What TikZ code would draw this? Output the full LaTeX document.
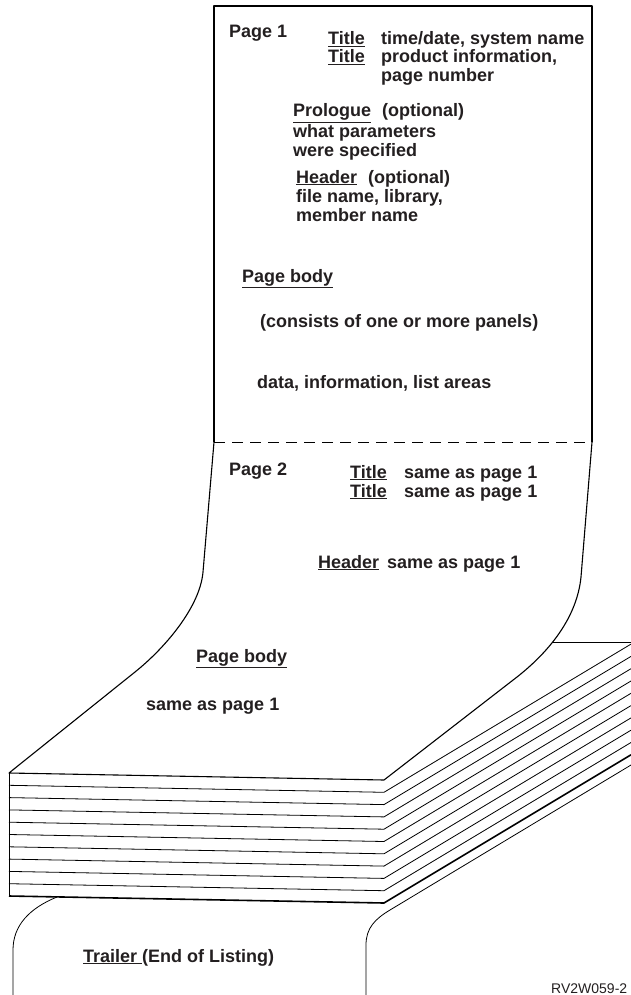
\documentclass[tikz,border=0pt]{standalone}
\usepackage{fontspec}
\setmainfont{Liberation Sans}
\usepackage{xcolor}
\usepackage{tikz}
\definecolor{ink}{HTML}{231F20}

\begin{document}
\begin{tikzpicture}[x=1pt, y=-1pt,
  edge/.style={line width=1.1pt, line join=round},
  sheet/.style={line width=0.8pt},
  bottom/.style={line width=1.6pt},
  fold/.style={line width=0.9pt, dash pattern=on 11pt off 7pt},
  txt/.style={anchor=base west, inner sep=0pt, text=ink,
              font=\bfseries\fontsize{18}{18.5}\selectfont},
  tag/.style={anchor=base west, inner sep=0pt, text=ink,
              font=\fontsize{14}{16}\selectfont}
]
\useasboundingbox (0,0) rectangle (631,995);
% page 1
\draw[edge] (214,442) -- (214,6) -- (592,6) -- (592,442);
\draw[fold] (214,442) -- (592,442);
% page 2 bending down onto the stack
\draw[edge] (214,442) -- (203,572) .. controls (200,607) and (165,648) .. (135,672)
  -- (9,773) -- (384,780) -- (517,677) .. controls (550,651) and (577,617) .. (581,577) -- (592,442);
% stack of pages
\draw[sheet] (9,773) -- (9,896);
\draw[sheet] (553,642) -- (631,642);
\draw[sheet] (9,785.3) -- (384,792.3) -- (631,644.1);
\draw[sheet] (9,797.6) -- (384,804.6) -- (631,656.4);
\draw[sheet] (9,809.9) -- (384,816.9) -- (631,668.7);
\draw[sheet] (9,822.2) -- (384,829.2) -- (631,681.0);
\draw[sheet] (9,834.5) -- (384,841.5) -- (631,693.3);
\draw[sheet] (9,846.8) -- (384,853.8) -- (631,705.6);
\draw[sheet] (9,859.1) -- (384,866.1) -- (631,717.9);
\draw[sheet] (9,871.4) -- (384,878.4) -- (631,730.2);
\draw[sheet] (9,883.7) -- (384,890.7) -- (631,742.5);
\draw[bottom] (9,896) -- (384,903) -- (631,754.8);
% trailer page
\draw[sheet] (57,897) .. controls (30,908) and (13,925) .. (13,950) -- (13,995);
\draw[sheet] (366,995) -- (366,945) .. controls (366,928) and (375,919) .. (390,910) -- (631,765);

% page 1 text
\node[txt] (pg1)   at (229,38)  {Page 1};
\node[txt] (ttl1)  at (328,45)  {\underline{Title}};
\node[txt] (ttl1d) at (381,45)  {time/date, system name};
\node[txt] (ttl2)  at (328,63)  {\underline{Title}};
\node[txt] (ttl2d) at (381,63)  {product information,};
\node[txt] (ttl2e) at (381,81.5){page number};
\node[txt] (prol)  at (293,117) {\underline{Prologue}\hspace{11pt}(optional)};
\node[txt] (prol2) at (293,137.5){what parameters};
\node[txt] (prol3) at (293,157) {were specified};
\node[txt] (hdr1)  at (296,183) {\underline{Header}\hspace{11pt}(optional)};
\node[txt] (hdr1b) at (296,202) {file name, library,};
\node[txt] (hdr1c) at (296,221) {member name};
\node[txt] (body1) at (242,282) {\underline{Page body}};
\node[txt] (panl)  at (260,327) {(consists of one or more panels)};
\node[txt] (data)  at (257,388) {data, information, list areas};
% page 2 text
\node[txt] (pg2)   at (229,475) {Page 2};
\node[txt] (ttl3)  at (350,478) {\underline{Title}};
\node[txt] (ttl3d) at (404,478) {same as page 1};
\node[txt] (ttl4)  at (350,497) {\underline{Title}};
\node[txt] (ttl4d) at (404,497) {same as page 1};
\node[txt] (hdr2)  at (318,568) {\underline{Header}};
\node[txt] (hdr2d) at (387,568) {same as page 1};
\node[txt] (body2) at (196,662) {\underline{Page body}};
\node[txt] (body2d)at (146,710) {same as page 1};
% trailer
\node[txt] (trlr)  at (83,962)  {\underline{Trailer\ }(End of Listing)};
\node[tag] (figid) at (551,993.5) {RV2W059-2};
\end{tikzpicture}
\end{document}
